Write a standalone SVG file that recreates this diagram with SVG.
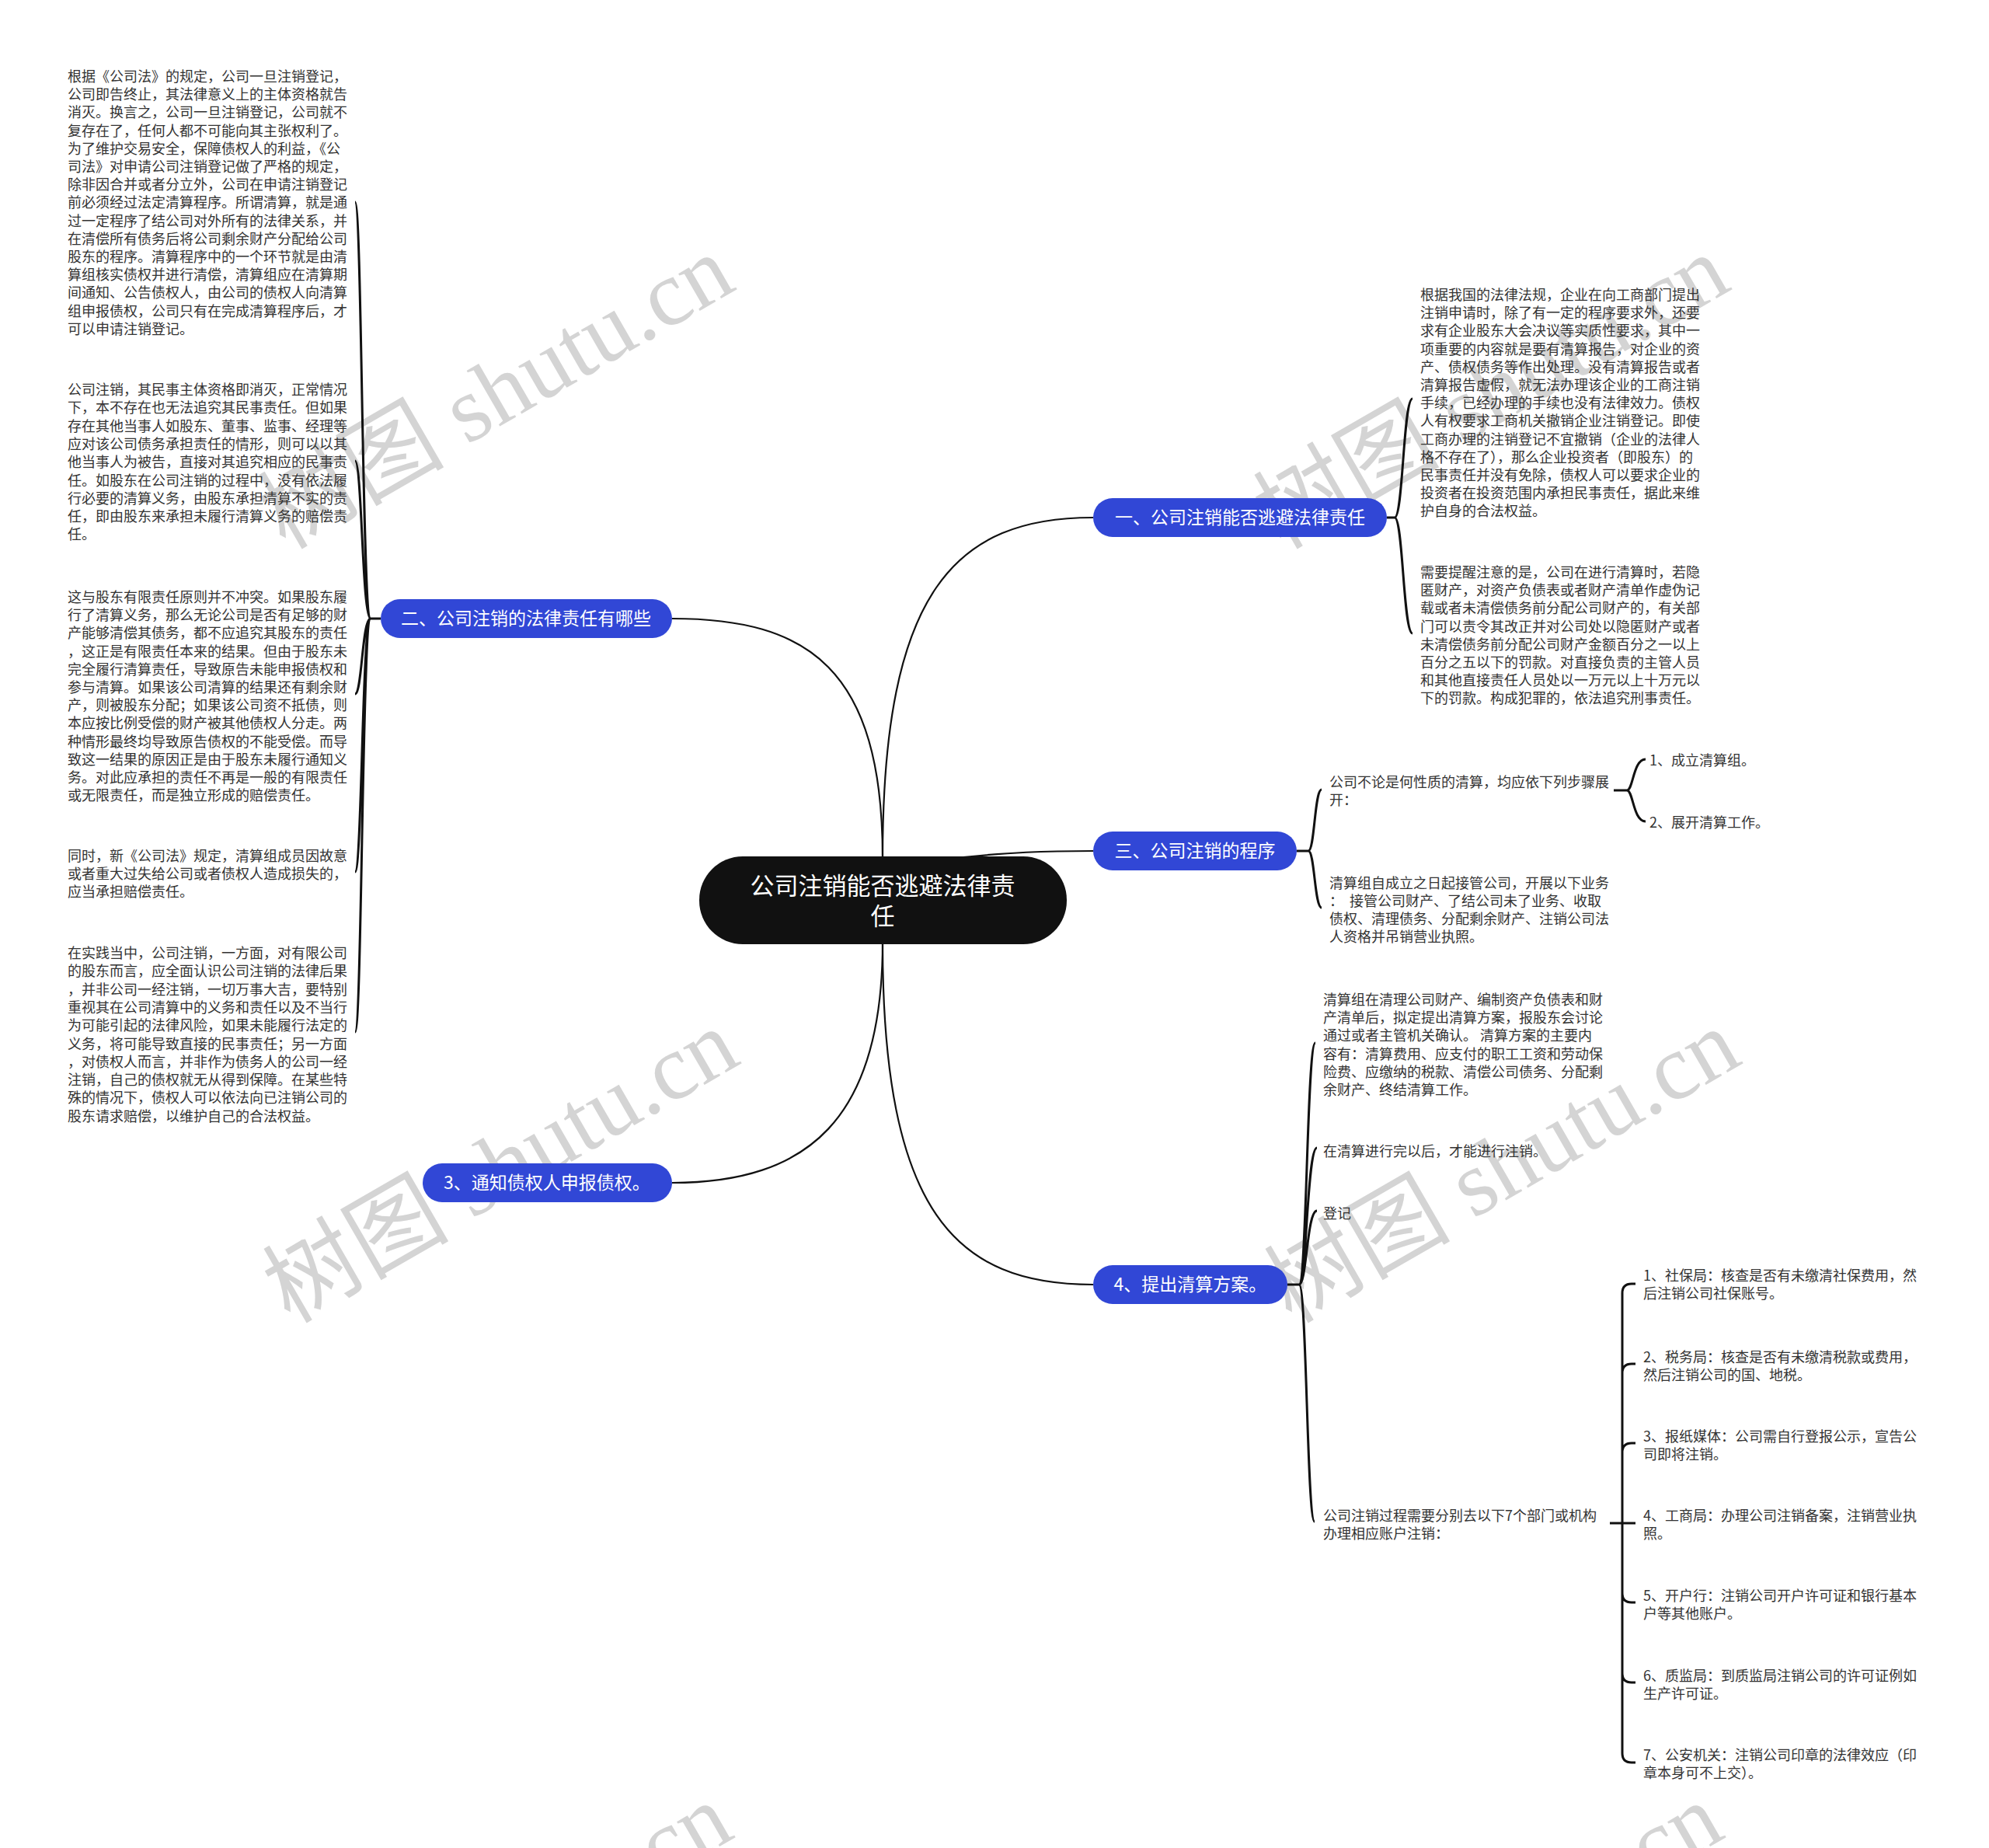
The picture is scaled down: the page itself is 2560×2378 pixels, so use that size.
<svg xmlns="http://www.w3.org/2000/svg" width="2560" height="2378" viewBox="0 0 2560 2378">
<style>
.t{font-family:"Noto Sans CJK SC","Noto Sans",sans-serif;font-size:18px;fill:#333}
.n{font-family:"Noto Sans CJK SC","Noto Sans",sans-serif;font-size:23px;fill:#fff}
.c{font-family:"Noto Sans CJK SC","Noto Sans",sans-serif;font-size:31px;fill:#fff}
.b{fill:#3147d6}
.w{font-family:"Liberation Serif","Noto Sans CJK SC",serif;font-size:120px;fill:#d4d4d4}
.l{fill:none;stroke:#111;stroke-width:2.2}
.k{fill:none;stroke:#111;stroke-width:3}
</style>
<rect width="2560" height="2378" fill="#fff"/>
<g id="watermarks">
<text class="w" transform="translate(367,708) rotate(-30)">树图 shutu.cn</text>
<text class="w" transform="translate(1648,708) rotate(-30)">树图 shutu.cn</text>
<text class="w" transform="translate(373,1704) rotate(-30)">树图 shutu.cn</text>
<text class="w" transform="translate(1662,1704) rotate(-30)">树图 shutu.cn</text>
<text class="w" transform="translate(365,2700) rotate(-30)">树图 shutu.cn</text>
<text class="w" transform="translate(1640,2700) rotate(-30)">树图 shutu.cn</text>
</g>
<g id="connectors">
<path class="l" d="M1136,1104 C1136,760 1230,666 1407,666"/>
<path class="l" d="M1136,1104 C1136,860 1040,796 865,796"/>
<path class="l" d="M1240,1103 C1300,1097 1340,1095 1407,1095"/>
<path class="l" d="M1136,1213 C1136,1560 1230,1653 1407,1653"/>
<path class="l" d="M1136,1213 C1136,1440 1040,1522 865,1522"/>
<path class="k" d="M1785,666 L1795,666 C1806,666 1806,513 1818,513 M1795,666 C1806,666 1806,815 1818,815"/>
<path class="k" d="M490,796 L477,796 C466,796 466,260 457,260 M477,796 C466,796 466,593 457,593 M477,796 C466,796 466,893 457,893 M477,796 C466,796 466,1122 457,1122 M477,796 C466,796 466,1328 457,1328"/>
<path class="k" d="M1669,1095 L1684,1095 C1692,1095 1692,1016 1701,1016 M1684,1095 C1692,1095 1692,1168 1701,1168"/>
<path class="k" d="M2077,1017 L2094,1017 C2102,1017 2102,977 2118,977 M2094,1017 C2102,1017 2102,1057 2118,1057"/>
<path class="k" d="M1657,1653 L1672,1653 C1682,1653 1682,1342 1693,1342 M1672,1653 C1682,1653 1682,1477 1695,1477 M1672,1653 C1682,1653 1682,1558 1695,1558 M1672,1653 C1682,1653 1682,1958 1692,1958"/>
<path class="k" d="M2072,1960 L2105,1960 M2088,1960 L2088,1664 Q2088,1652 2100,1652 L2105,1652 M2088,1960 L2088,1767 Q2088,1755 2100,1755 L2105,1755 M2088,1960 L2088,1869 Q2088,1857 2100,1857 L2105,1857 M2088,1960 L2088,2050 Q2088,2062 2100,2062 L2105,2062 M2088,1960 L2088,2153 Q2088,2165 2100,2165 L2105,2165 M2088,1960 L2088,2256 Q2088,2268 2100,2268 L2105,2268"/>
</g>
<g id="center">
<rect x="900" y="1102" width="473" height="113" rx="56" fill="#111"/>
<text class="c" text-anchor="middle"><tspan x="1136" y="1151">公司注销能否逃避法律责</tspan><tspan x="1136" y="1190">任</tspan></text>
</g>
<g id="n1">
<rect class="b" x="1407" y="641" width="378" height="50" rx="25"/>
<text class="n" x="1596" y="674" text-anchor="middle">一、公司注销能否逃避法律责任</text>
</g>
<g id="n2">
<rect class="b" x="490" y="771" width="375" height="50" rx="25"/>
<text class="n" x="677" y="804" text-anchor="middle">二、公司注销的法律责任有哪些</text>
</g>
<g id="n3">
<rect class="b" x="1407" y="1070" width="262" height="50" rx="25"/>
<text class="n" x="1538" y="1103" text-anchor="middle">三、公司注销的程序</text>
</g>
<g id="n4">
<rect class="b" x="1407" y="1628" width="250" height="50" rx="25"/>
<text class="n" x="1532" y="1661" text-anchor="middle">4、提出清算方案。</text>
</g>
<g id="n5">
<rect class="b" x="544" y="1497" width="321" height="50" rx="25"/>
<text class="n" x="704" y="1530" text-anchor="middle">3、通知债权人申报债权。</text>
</g>
<g id="L1"><text class="t">
<tspan x="87" y="105">根据《公司法》的规定，公司一旦注销登记，</tspan>
<tspan x="87" y="128.2">公司即告终止，其法律意义上的主体资格就告</tspan>
<tspan x="87" y="151.4">消灭。换言之，公司一旦注销登记，公司就不</tspan>
<tspan x="87" y="174.6">复存在了，任何人都不可能向其主张权利了。</tspan>
<tspan x="87" y="197.8">为了维护交易安全，保障债权人的利益，《公</tspan>
<tspan x="87" y="221">司法》对申请公司注销登记做了严格的规定，</tspan>
<tspan x="87" y="244.2">除非因合并或者分立外，公司在申请注销登记</tspan>
<tspan x="87" y="267.4">前必须经过法定清算程序。所谓清算，就是通</tspan>
<tspan x="87" y="290.6">过一定程序了结公司对外所有的法律关系，并</tspan>
<tspan x="87" y="313.8">在清偿所有债务后将公司剩余财产分配给公司</tspan>
<tspan x="87" y="337">股东的程序。清算程序中的一个环节就是由清</tspan>
<tspan x="87" y="360.2">算组核实债权并进行清偿，清算组应在清算期</tspan>
<tspan x="87" y="383.4">间通知、公告债权人，由公司的债权人向清算</tspan>
<tspan x="87" y="406.6">组申报债权，公司只有在完成清算程序后，才</tspan>
<tspan x="87" y="429.8">可以申请注销登记。</tspan>
</text></g>
<g id="L2"><text class="t">
<tspan x="87" y="508">公司注销，其民事主体资格即消灭，正常情况</tspan>
<tspan x="87" y="531.3">下，本不存在也无法追究其民事责任。但如果</tspan>
<tspan x="87" y="554.6">存在其他当事人如股东、董事、监事、经理等</tspan>
<tspan x="87" y="577.9">应对该公司债务承担责任的情形，则可以以其</tspan>
<tspan x="87" y="601.2">他当事人为被告，直接对其追究相应的民事责</tspan>
<tspan x="87" y="624.5">任。如股东在公司注销的过程中，没有依法履</tspan>
<tspan x="87" y="647.8">行必要的清算义务，由股东承担清算不实的责</tspan>
<tspan x="87" y="671.1">任，即由股东来承担未履行清算义务的赔偿责</tspan>
<tspan x="87" y="694.4">任。</tspan>
</text></g>
<g id="L3"><text class="t">
<tspan x="87" y="775">这与股东有限责任原则并不冲突。如果股东履</tspan>
<tspan x="87" y="798.2">行了清算义务，那么无论公司是否有足够的财</tspan>
<tspan x="87" y="821.4">产能够清偿其债务，都不应追究其股东的责任</tspan>
<tspan x="87" y="844.6">，这正是有限责任本来的结果。但由于股东未</tspan>
<tspan x="87" y="867.8">完全履行清算责任，导致原告未能申报债权和</tspan>
<tspan x="87" y="891">参与清算。如果该公司清算的结果还有剩余财</tspan>
<tspan x="87" y="914.2">产，则被股东分配；如果该公司资不抵债，则</tspan>
<tspan x="87" y="937.4">本应按比例受偿的财产被其他债权人分走。两</tspan>
<tspan x="87" y="960.6">种情形最终均导致原告债权的不能受偿。而导</tspan>
<tspan x="87" y="983.8">致这一结果的原因正是由于股东未履行通知义</tspan>
<tspan x="87" y="1007">务。对此应承担的责任不再是一般的有限责任</tspan>
<tspan x="87" y="1030.2">或无限责任，而是独立形成的赔偿责任。</tspan>
</text></g>
<g id="L4"><text class="t">
<tspan x="87" y="1108">同时，新《公司法》规定，清算组成员因故意</tspan>
<tspan x="87" y="1131.2">或者重大过失给公司或者债权人造成损失的，</tspan>
<tspan x="87" y="1154.4">应当承担赔偿责任。</tspan>
</text></g>
<g id="L5"><text class="t">
<tspan x="87" y="1233">在实践当中，公司注销，一方面，对有限公司</tspan>
<tspan x="87" y="1256.3">的股东而言，应全面认识公司注销的法律后果</tspan>
<tspan x="87" y="1279.6">，并非公司一经注销，一切万事大吉，要特别</tspan>
<tspan x="87" y="1302.9">重视其在公司清算中的义务和责任以及不当行</tspan>
<tspan x="87" y="1326.2">为可能引起的法律风险，如果未能履行法定的</tspan>
<tspan x="87" y="1349.5">义务，将可能导致直接的民事责任；另一方面</tspan>
<tspan x="87" y="1372.8">，对债权人而言，并非作为债务人的公司一经</tspan>
<tspan x="87" y="1396.1">注销，自己的债权就无从得到保障。在某些特</tspan>
<tspan x="87" y="1419.4">殊的情况下，债权人可以依法向已注销公司的</tspan>
<tspan x="87" y="1442.7">股东请求赔偿，以维护自己的合法权益。</tspan>
</text></g>
<g id="R1"><text class="t">
<tspan x="1828" y="386">根据我国的法律法规，企业在向工商部门提出</tspan>
<tspan x="1828" y="409.2">注销申请时，除了有一定的程序要求外，还要</tspan>
<tspan x="1828" y="432.4">求有企业股东大会决议等实质性要求，其中一</tspan>
<tspan x="1828" y="455.6">项重要的内容就是要有清算报告，对企业的资</tspan>
<tspan x="1828" y="478.8">产、债权债务等作出处理。没有清算报告或者</tspan>
<tspan x="1828" y="502">清算报告虚假，就无法办理该企业的工商注销</tspan>
<tspan x="1828" y="525.2">手续，已经办理的手续也没有法律效力。债权</tspan>
<tspan x="1828" y="548.4">人有权要求工商机关撤销企业注销登记。即使</tspan>
<tspan x="1828" y="571.6">工商办理的注销登记不宜撤销（企业的法律人</tspan>
<tspan x="1828" y="594.8">格不存在了），那么企业投资者（即股东）的</tspan>
<tspan x="1828" y="618">民事责任并没有免除，债权人可以要求企业的</tspan>
<tspan x="1828" y="641.2">投资者在投资范围内承担民事责任，据此来维</tspan>
<tspan x="1828" y="664.4">护自身的合法权益。</tspan>
</text></g>
<g id="R2"><text class="t">
<tspan x="1828" y="743">需要提醒注意的是，公司在进行清算时，若隐</tspan>
<tspan x="1828" y="766.2">匿财产，对资产负债表或者财产清单作虚伪记</tspan>
<tspan x="1828" y="789.4">载或者未清偿债务前分配公司财产的，有关部</tspan>
<tspan x="1828" y="812.6">门可以责令其改正并对公司处以隐匿财产或者</tspan>
<tspan x="1828" y="835.8">未清偿债务前分配公司财产金额百分之一以上</tspan>
<tspan x="1828" y="859">百分之五以下的罚款。对直接负责的主管人员</tspan>
<tspan x="1828" y="882.2">和其他直接责任人员处以一万元以上十万元以</tspan>
<tspan x="1828" y="905.4">下的罚款。构成犯罪的，依法追究刑事责任。</tspan>
</text></g>
<g id="S1"><text class="t">
<tspan x="1711" y="1012.5">公司不论是何性质的清算，均应依下列步骤展</tspan>
<tspan x="1711" y="1035.7">开：</tspan>
</text></g>
<g id="S1a"><text class="t" x="2123" y="984.5">1、成立清算组。</text></g>
<g id="S1b"><text class="t" x="2123" y="1064.5">2、展开清算工作。</text></g>
<g id="S2"><text class="t" xml:space="preserve">
<tspan x="1711" y="1142.5">清算组自成立之日起接管公司，开展以下业务</tspan>
<tspan x="1711" y="1165.7">：  接管公司财产、了结公司未了业务、收取</tspan>
<tspan x="1711" y="1188.9">债权、清理债务、分配剩余财产、注销公司法</tspan>
<tspan x="1711" y="1212.1">人资格并吊销营业执照。</tspan>
</text></g>
<g id="P1"><text class="t">
<tspan x="1703" y="1293">清算组在清理公司财产、编制资产负债表和财</tspan>
<tspan x="1703" y="1316.2">产清单后，拟定提出清算方案，报股东会讨论</tspan>
<tspan x="1703" y="1339.4">通过或者主管机关确认。 清算方案的主要内</tspan>
<tspan x="1703" y="1362.6">容有：清算费用、应支付的职工工资和劳动保</tspan>
<tspan x="1703" y="1385.8">险费、应缴纳的税款、清偿公司债务、分配剩</tspan>
<tspan x="1703" y="1409">余财产、终结清算工作。</tspan>
</text></g>
<g id="P2"><text class="t" x="1703" y="1488">在清算进行完以后，才能进行注销。</text></g>
<g id="P3"><text class="t" x="1703" y="1568">登记</text></g>
<g id="P4"><text class="t">
<tspan x="1703" y="1956.5">公司注销过程需要分别去以下7个部门或机构</tspan>
<tspan x="1703" y="1979.7">办理相应账户注销：</tspan>
</text></g>
<g id="D1"><text class="t"><tspan x="2115" y="1648">1、社保局：核查是否有未缴清社保费用，然</tspan><tspan x="2115" y="1671.3">后注销公司社保账号。</tspan></text></g>
<g id="D2"><text class="t"><tspan x="2115" y="1753">2、税务局：核查是否有未缴清税款或费用，</tspan><tspan x="2115" y="1776.3">然后注销公司的国、地税。</tspan></text></g>
<g id="D3"><text class="t"><tspan x="2115" y="1855">3、报纸媒体：公司需自行登报公示，宣告公</tspan><tspan x="2115" y="1878.3">司即将注销。</tspan></text></g>
<g id="D4"><text class="t"><tspan x="2115" y="1956.5">4、工商局：办理公司注销备案，注销营业执</tspan><tspan x="2115" y="1979.8">照。</tspan></text></g>
<g id="D5"><text class="t"><tspan x="2115" y="2060">5、开户行：注销公司开户许可证和银行基本</tspan><tspan x="2115" y="2083.3">户等其他账户。</tspan></text></g>
<g id="D6"><text class="t"><tspan x="2115" y="2163">6、质监局：到质监局注销公司的许可证例如</tspan><tspan x="2115" y="2186.3">生产许可证。</tspan></text></g>
<g id="D7"><text class="t"><tspan x="2115" y="2265">7、公安机关：注销公司印章的法律效应（印</tspan><tspan x="2115" y="2288.3">章本身可不上交）。</tspan></text></g>
</svg>
